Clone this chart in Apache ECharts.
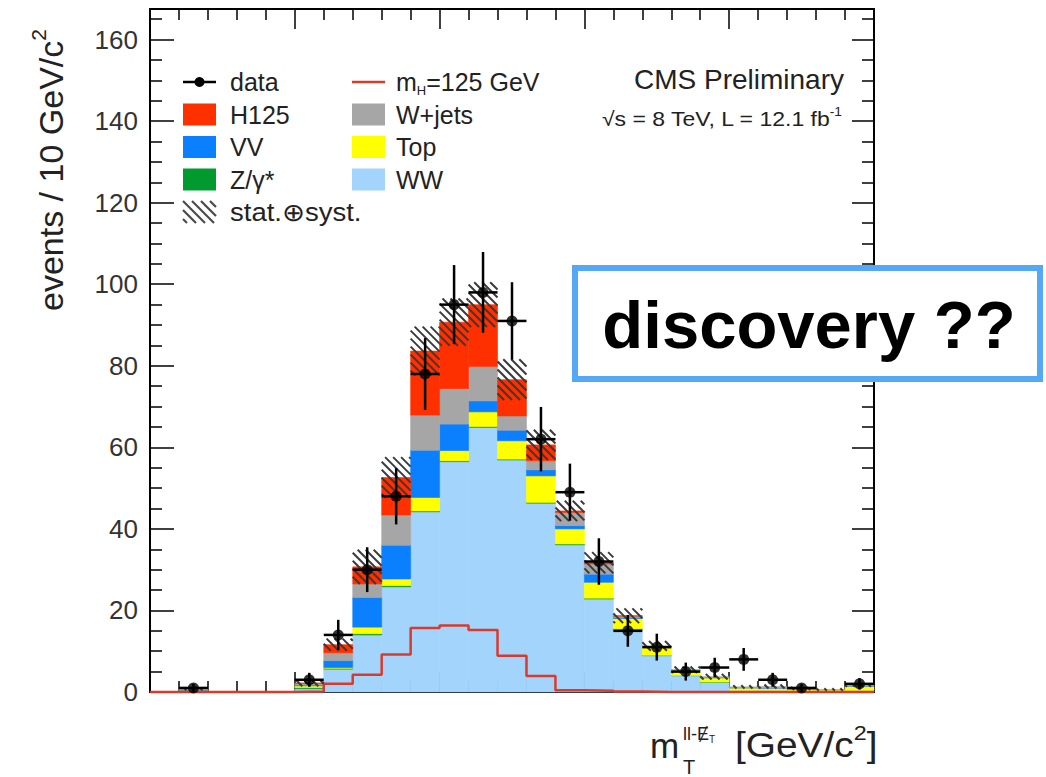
<!DOCTYPE html>
<html>
<head>
<meta charset="utf-8">
<title>m_T distribution</title>
<script src="https://cdn.jsdelivr.net/npm/echarts@6/dist/echarts.min.js"></script>
<style>
  html, body { margin: 0; padding: 0; background: #ffffff; }
  #chart { width: 1046px; height: 777px; }
</style>
</head>
<body>
<div id="chart"></div>
<script>
// ---- histogram content: 25 bins of 10 GeV/c^2 in m_T(ll-MET) ----
const binLow = [0, 10, 20, 30, 40, 50, 60, 70, 80, 90, 100, 110, 120, 130, 140,
                150, 160, 170, 180, 190, 200, 210, 220, 230, 240];
const binWidth = 10;

// expected events per bin, one array per process (stacked bottom to top)
const ww    = [0, 0.3, 0, 0, 0, 0.8, 5.6, 14.0, 25.8, 44.2, 56.5, 64.9, 56.9, 46.3, 36.1, 22.8, 15.4, 8.9, 4.0, 2.4, 0.4, 0.4, 0.3, 0.2, 0.4];
const zg    = [0, 0.05, 0, 0, 0, 0.3, 0.2, 0.3, 0.3, 0.2, 0.2, 0.2, 0.2, 0.2, 0.2, 0.2, 0.1, 0.1, 0.05, 0.05, 0, 0, 0, 0, 0];
const topQ  = [0, 0.1, 0, 0, 0, 0.4, 0.2, 1.6, 1.6, 3.3, 2.5, 3.6, 4.5, 6.5, 3.7, 3.9, 2.5, 2.0, 1.2, 1.0, 0.6, 0.5, 0.3, 0.3, 1.0];
const vv    = [0, 0.05, 0, 0, 0, 0.2, 1.7, 7.3, 8.3, 11.6, 6.5, 2.7, 2.6, 1.5, 0.8, 2.0, 0.3, 0.1, 0.1, 0.1, 0.05, 0.05, 0.05, 0, 0.05];
const wjets = [0, 0.2, 0, 0, 0, 0.4, 1.9, 3.3, 7.4, 8.6, 8.7, 8.4, 3.5, 2.2, 3.2, 2.5, 0.3, 0.2, 0.1, 0.2, 0.2, 0.4, 0.2, 0.1, 0.2];
const h125  = [0, 0, 0, 0, 0, 0.1, 2.0, 4.2, 9.2, 15.7, 16.3, 15.2, 8.9, 3.9, 0.4, 0.3, 0.1, 0, 0, 0, 0, 0, 0, 0, 0];

// stat. (+) syst. half-width of the band around the total expectation
const systErr = [0, 0.3, 0, 0, 0, 0.8, 1.5, 4.2, 5.0, 6.0, 5.8, 5.5, 5.0, 3.7, 2.5, 2.6, 1.8, 1.2, 0.8, 0.7, 0.4, 0.5, 0.4, 0.3, 0.4];

// observed events and their errors
const dataCounts = [0, 1, 0, 0, 0, 3, 14, 30, 48, 78, 95, 98, 91, 62, 49, 32, 15, 11, 5, 6, 8, 3, 1, 0, 2];
const dataErr    = [0, 1.0, 0, 0, 0, 1.7, 3.7, 5.5, 6.9, 8.8, 9.7, 9.9, 9.5, 7.9, 7.0, 5.7, 3.9, 3.3, 2.2, 2.4, 2.8, 1.7, 1.0, 0, 1.4];

// axis ranges
const xRange = [0, 250];
const yRange = [0, 167.5];

const FONT = "'Liberation Sans', Arial, Helvetica, sans-serif";
const TEXT = '#222222';

const processes = [
  { name: 'WW',     values: ww,    color: '#a2d4fc' },
  { name: 'Z/γ*',   values: zg,    color: '#009a2e' },
  { name: 'Top',    values: topQ,  color: '#ffff00' },
  { name: 'VV',     values: vv,    color: '#0a80ff' },
  { name: 'W+jets', values: wjets, color: '#a6a6a6' },
  { name: 'H125',   values: h125,  color: '#ff3000' }
];

// ---- stacked fills ----
function boxItem(params, api) {
  const a = api.coord([api.value(0), api.value(3)]);
  const b = api.coord([api.value(1), api.value(2)]);
  const color = api.visual('color');
  return {
    type: 'rect',
    shape: { x: a[0], y: a[1], width: b[0] - a[0], height: b[1] - a[1] },
    style: { fill: color, stroke: color, lineWidth: 0.6 }
  };
}

const cumulative = binLow.map(() => 0);
const stackSeries = processes.map(p => {
  const items = [];
  binLow.forEach((x, i) => {
    const v = p.values[i];
    if (v > 0) items.push([x, x + binWidth, cumulative[i], cumulative[i] + v]);
    cumulative[i] += v;
  });
  return {
    type: 'custom', name: p.name, renderItem: boxItem,
    itemStyle: { color: p.color },
    encode: { x: [0, 1], y: [2, 3] },
    data: items, z: 2, silent: true
  };
});

// ---- hatched uncertainty band (falling diagonal lines clipped to each box) ----
const HATCH_GAP = 8;
function hatchLines(x0, y0, x1, y1, color, width, gap) {
  const g = gap || HATCH_GAP;
  const out = [];
  const cStart = Math.ceil((y0 - x1) / g) * g;
  for (let c = cStart; c <= y1 - x0; c += g) {
    const xs = Math.max(x0, y0 - c);
    const xe = Math.min(x1, y1 - c);
    if (xe - xs > 0.5) {
      out.push({ type: 'line', shape: { x1: xs, y1: xs + c, x2: xe, y2: xe + c },
                 style: { stroke: color, lineWidth: width } });
    }
  }
  return out;
}
function hatchItem(params, api) {
  const a = api.coord([api.value(0), api.value(3)]);
  const b = api.coord([api.value(1), api.value(2)]);
  return { type: 'group', children: hatchLines(a[0], a[1], b[0], b[1], '#3a3a3a', 2) };
}
const bandItems = [];
binLow.forEach((x, i) => {
  if (cumulative[i] > 0 && systErr[i] > 0) {
    bandItems.push([x, x + binWidth, Math.max(0, cumulative[i] - systErr[i]), cumulative[i] + systErr[i]]);
  }
});

// ---- m_H = 125 GeV overlay as a step line over the bin edges ----
const signalLine = binLow.map((x, i) => [x, h125[i]]);
signalLine.push([xRange[1], h125[h125.length - 1]]);

// ---- data points with error bars ----
const dataPoints = [];
const dataBars = [];
binLow.forEach((x, i) => {
  if (dataCounts[i] > 0) {
    dataPoints.push([x + binWidth / 2, dataCounts[i]]);
    dataBars.push([x, x + binWidth, x + binWidth / 2, dataCounts[i], dataErr[i]]);
  }
});
function errorItem(params, api) {
  const xc = api.value(2), n = api.value(3), e = api.value(4);
  const lo = api.coord([xc, n - e]);
  const hi = api.coord([xc, n + e]);
  const l = api.coord([api.value(0), n]);
  const r = api.coord([api.value(1), n]);
  const st = { stroke: '#000', lineWidth: 2.5 };
  return {
    type: 'group',
    children: [
      { type: 'line', shape: { x1: lo[0], y1: lo[1], x2: hi[0], y2: hi[1] }, style: st },
      { type: 'line', shape: { x1: l[0], y1: l[1], x2: r[0], y2: r[1] }, style: st }
    ]
  };
}

// ---- axes: closed frame with inward ticks ----
function xAxisDef(pos) {
  return {
    type: 'value', position: pos, min: xRange[0], max: xRange[1], interval: 50,
    axisLine: { show: true, onZero: false, lineStyle: { color: '#000', width: 2 } },
    axisTick: { show: true, inside: true, length: 20, lineStyle: { color: '#000', width: 1.5 } },
    minorTick: { show: true, splitNumber: 5, length: 11, lineStyle: { color: '#000', width: 1.5 } },
    axisLabel: { show: false }, splitLine: { show: false }, minorSplitLine: { show: false }
  };
}
function yAxisDef(pos, labels) {
  return {
    type: 'value', position: pos, min: yRange[0], max: yRange[1], interval: 20,
    axisLine: { show: true, onZero: false, lineStyle: { color: '#000', width: 2 } },
    axisTick: { show: true, inside: true, length: pos === 'left' ? 24 : 22, lineStyle: { color: '#000', width: 1.5 } },
    minorTick: { show: true, splitNumber: 4, length: 12, lineStyle: { color: '#000', width: 1.5 } },
    axisLabel: labels ? { show: true, fontSize: 26, color: '#333', fontFamily: FONT, margin: 12, showMaxLabel: false }
                      : { show: false },
    splitLine: { show: false }, minorSplitLine: { show: false }
  };
}

// ---- legend, labels, annotation ----
const rowY = [82, 114.5, 147, 179.5, 212];
const col1 = 183, col2 = 352, symW = 33, symH = 22;
function legendText(x, y, text, sx) {
  return {
    type: 'text', x: x, y: y, scaleX: sx || 1,
    style: { text: text, fill: TEXT, fontSize: 25, fontFamily: FONT, align: 'left', verticalAlign: 'middle' }
  };
}
function legendBox(x, y, color) {
  return { type: 'rect', shape: { x: x, y: y - symH / 2, width: symW, height: symH }, style: { fill: color } };
}
const colorOf = name => processes.find(p => p.name === name).color;

const legendSymbols = [
  // data marker
  { type: 'line', shape: { x1: col1, y1: rowY[0], x2: col1 + symW, y2: rowY[0] }, style: { stroke: '#000', lineWidth: 2.5 } },
  { type: 'circle', shape: { cx: col1 + symW / 2, cy: rowY[0], r: 5 }, style: { fill: '#000' } },
  legendBox(col1, rowY[1], colorOf('H125')),
  legendBox(col1, rowY[2], colorOf('VV')),
  legendBox(col1, rowY[3], colorOf('Z/γ*')),
  { type: 'group', children: hatchLines(col1, rowY[4] - symH / 2, col1 + symW, rowY[4] + symH / 2, '#4a4a4a', 2.2, 9) },
  // signal line
  { type: 'line', shape: { x1: col2, y1: rowY[0], x2: col2 + symW, y2: rowY[0] }, style: { stroke: '#d93a2b', lineWidth: 2.5 } },
  legendBox(col2, rowY[1], colorOf('W+jets')),
  legendBox(col2, rowY[2], colorOf('Top')),
  legendBox(col2, rowY[3], colorOf('WW'))
];
const legendLabels = [
  legendText(230, rowY[0], 'data'),
  legendText(230, rowY[1], 'H125'),
  legendText(230, rowY[2], 'VV'),
  legendText(230, rowY[3], 'Z/γ*'),
  legendText(230, rowY[4], 'stat.⊕syst.', 1.1),
  {
    type: 'text', x: 396, y: rowY[0],
    style: {
      text: '{a|m}{s|H}{a|=125 GeV}', fill: TEXT, fontFamily: FONT, align: 'left', verticalAlign: 'middle',
      rich: { a: { fontSize: 25, lineHeight: 30, fill: TEXT, fontFamily: FONT },
              s: { fontSize: 13, lineHeight: 13, verticalAlign: 'bottom', fill: TEXT, fontFamily: FONT } }
    }
  },
  legendText(396, rowY[1], 'W+jets'),
  legendText(396, rowY[2], 'Top'),
  legendText(396, rowY[3], 'WW')
];

const titles = [
  { type: 'text', x: 844, y: 79,
    style: { text: 'CMS Preliminary', fill: TEXT, fontSize: 28, fontFamily: FONT, align: 'right', verticalAlign: 'middle' } },
  { type: 'text', x: 842, y: 119, scaleX: 1.15,
    style: {
      text: '{a|√s = 8 TeV, L = 12.1 fb}{s|-1}', fill: TEXT, fontFamily: FONT, align: 'right', verticalAlign: 'middle',
      rich: { a: { fontSize: 20, lineHeight: 26, fill: TEXT, fontFamily: FONT },
              s: { fontSize: 12, lineHeight: 12, verticalAlign: 'top', fill: TEXT, fontFamily: FONT } }
    } },
  // y axis title, reading upwards
  { type: 'text', x: 51, y: 311, rotation: Math.PI / 2,
    style: {
      text: '{a|events / 10 GeV/c}{s|2}', fill: TEXT, fontFamily: FONT, align: 'left', verticalAlign: 'middle',
      rich: { a: { fontSize: 34, lineHeight: 46, fill: TEXT, fontFamily: FONT },
              s: { fontSize: 21, lineHeight: 21, verticalAlign: 'top', fill: TEXT, fontFamily: FONT } }
    } },
  // x axis title
  { type: 'text', x: 650, y: 745,
    style: { text: 'm', fill: TEXT, fontSize: 35, fontFamily: FONT, align: 'left', verticalAlign: 'middle' } },
  { type: 'text', x: 683, y: 767,
    style: { text: 'T', fill: TEXT, fontSize: 20, fontFamily: FONT, align: 'left', verticalAlign: 'middle' } },
  { type: 'text', x: 683, y: 734,
    style: {
      text: '{a|ll-Ɇ}{s|T}', fill: TEXT, fontFamily: FONT, align: 'left', verticalAlign: 'middle',
      rich: { a: { fontSize: 18, lineHeight: 20, fill: TEXT, fontFamily: FONT },
              s: { fontSize: 10, lineHeight: 10, verticalAlign: 'bottom', fill: TEXT, fontFamily: FONT } }
    } },
  { type: 'text', x: 735, y: 745, scaleX: 1.11,
    style: {
      text: '{a|[GeV/c}{s|2}{a|]}', fill: TEXT, fontFamily: FONT, align: 'left', verticalAlign: 'middle',
      rich: { a: { fontSize: 35, lineHeight: 46, fill: TEXT, fontFamily: FONT },
              s: { fontSize: 21, lineHeight: 21, verticalAlign: 'top', fill: TEXT, fontFamily: FONT } }
    } }
];

const callout = [
  { type: 'rect', z: 100, shape: { x: 575, y: 268, width: 465, height: 111 },
    style: { fill: '#ffffff', stroke: '#55a8f6', lineWidth: 6 } },
  { type: 'text', z: 101, x: 809, y: 324,
    style: { text: 'discovery ??', fill: '#000', fontSize: 67, fontWeight: 'bold', fontFamily: FONT,
             align: 'center', verticalAlign: 'middle' } }
];

const option = {
  animation: false,
  backgroundColor: '#ffffff',
  grid: { left: 150, right: 172, top: 9, bottom: 85, containLabel: false },
  xAxis: [xAxisDef('bottom'), xAxisDef('top')],
  yAxis: [yAxisDef('left', true), yAxisDef('right', false)],
  series: stackSeries.concat([
    {
      type: 'line', name: 'm_H=125 GeV', data: signalLine, step: 'end', showSymbol: false, symbol: 'none',
      clip: false, lineStyle: { color: '#d93a2b', width: 2.5 }, z: 3, silent: true
    },
    {
      type: 'custom', name: 'stat.⊕syst.', renderItem: hatchItem, encode: { x: [0, 1], y: [2, 3] },
      data: bandItems, z: 4, silent: true
    },
    {
      type: 'custom', name: 'data errors', renderItem: errorItem, encode: { x: [0, 1], y: [3] },
      data: dataBars, z: 5, silent: true
    },
    {
      type: 'scatter', name: 'data', data: dataPoints, symbol: 'circle', symbolSize: 11,
      itemStyle: { color: '#000' }, z: 6, silent: true
    }
  ]),
  graphic: { elements: legendSymbols.concat(legendLabels, titles, callout) }
};

const chart = echarts.init(document.getElementById('chart'), null, { renderer: 'svg', width: 1046, height: 777 });
chart.setOption(option);
</script>
</body>
</html>
